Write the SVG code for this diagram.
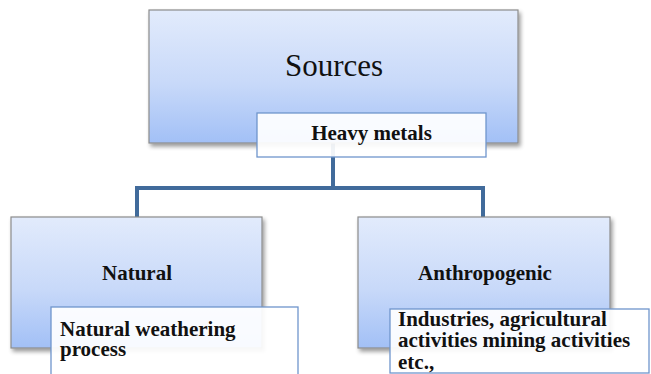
<svg xmlns="http://www.w3.org/2000/svg" width="651" height="374" viewBox="0 0 651 374">
<defs>
<linearGradient id="g" x1="0" y1="0" x2="0" y2="1">
<stop offset="0" stop-color="#e2ebfc"/>
<stop offset="0.55" stop-color="#c8d9f9"/>
<stop offset="1" stop-color="#a2c0f6"/>
</linearGradient>
<filter id="sh" x="-10%" y="-10%" width="125%" height="130%">
<feGaussianBlur in="SourceAlpha" stdDeviation="2"/>
<feOffset dx="2" dy="3"/>
<feComponentTransfer><feFuncA type="linear" slope="0.4"/></feComponentTransfer>
<feMerge><feMergeNode/><feMergeNode in="SourceGraphic"/></feMerge>
</filter>
<style>
.main{fill:url(#g);stroke:#8c8c8c;stroke-width:1.2;filter:url(#sh)}
.sub{fill:#ffffff;fill-opacity:0.92;stroke:#6f95cc;stroke-width:1.3}
text{font-family:'Liberation Serif','DejaVu Serif',serif;fill:#111}
.b{font-weight:bold;font-size:21px}
.conn{fill:none;stroke:#416b9b;stroke-width:4}
</style>
</defs>
<g id="connectors">
<path class="conn" d="M333 143 V188 M137 188 H483 M137 186 V217 M483 186 V217"/>
</g>
<g id="sources">
<rect class="main" x="149" y="10" width="369" height="133"/>
<text x="334" y="76" font-size="31" text-anchor="middle">Sources</text>
</g>
<g id="heavy-metals">
<rect class="sub" x="257" y="113" width="229" height="44"/>
<text class="b" x="371.5" y="140" text-anchor="middle">Heavy metals</text>
</g>
<g id="natural">
<rect class="main" x="11" y="217" width="251" height="131"/>
<text class="b" x="137" y="280" text-anchor="middle">Natural</text>
</g>
<g id="natural-detail">
<rect class="sub" x="51" y="307" width="247" height="75"/>
<text class="b" x="60" y="336">Natural weathering</text>
<text class="b" x="60" y="356">process</text>
</g>
<g id="anthropogenic">
<rect class="main" x="358" y="217" width="252" height="131"/>
<text class="b" x="485" y="280" text-anchor="middle">Anthropogenic</text>
</g>
<g id="anthropogenic-detail">
<rect class="sub" x="390" y="309" width="259" height="64"/>
<text class="b" x="398" y="326">Industries, agricultural</text>
<text class="b" x="398" y="347">activities mining activities</text>
<text class="b" x="398" y="369">etc.,</text>
</g>
</svg>
